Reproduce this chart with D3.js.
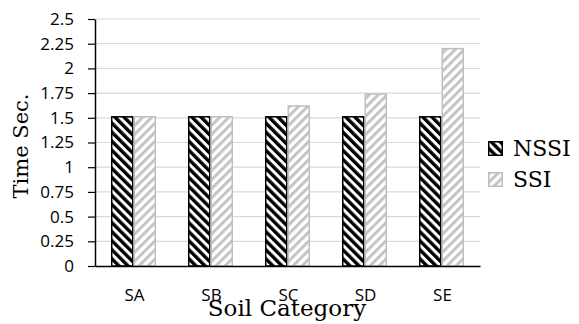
<!DOCTYPE html>
<html>
<head>
<meta charset="utf-8">
<script src="https://cdn.jsdelivr.net/npm/d3@7"></script>
<style>
html,body{margin:0;padding:0;background:#fff;}
svg{display:block;}
</style>
</head>
<body>
<svg id="chart" width="579" height="324"></svg>
<script>
const categories = ["SA", "SB", "SC", "SD", "SE"];
const seriesNames = ["NSSI", "SSI"];
const nssiValues = [1.51, 1.51, 1.51, 1.51, 1.51];
const ssiValues = [1.51, 1.51, 1.62, 1.74, 2.2];
const tickValues = [0, 0.25, 0.5, 0.75, 1, 1.25, 1.5, 1.75, 2, 2.25, 2.5];
const tickLabels = ["0", "0.25", "0.5", "0.75", "1", "1.25", "1.5", "1.75", "2", "2.25", "2.5"];
const yTitle = "Time Sec.";
const xTitle = "Soil Category";

const seriesValues = {NSSI: nssiValues, SSI: ssiValues};
const data = categories.map((c, i) => ({cat: c, vals: seriesNames.map(s => ({s, v: seriesValues[s][i]}))}));

const svg = d3.select("#chart");
const mLeft = 95, mRight = 480, mTop = 19, mBottom = 266;

// patterns
const defs = svg.append("defs");
const pN = defs.append("pattern").attr("id", "pat-NSSI").attr("patternUnits", "userSpaceOnUse")
  .attr("width", 6.4).attr("height", 6.4).attr("patternTransform", "rotate(-45)");
pN.append("rect").attr("width", 6.4).attr("height", 6.4).attr("fill", "#fff");
pN.append("rect").attr("x", 0).attr("width", 3.4).attr("height", 6.4).attr("fill", "#000");
const pS = defs.append("pattern").attr("id", "pat-SSI").attr("patternUnits", "userSpaceOnUse")
  .attr("width", 6.4).attr("height", 6.4).attr("patternTransform", "rotate(45)");
pS.append("rect").attr("width", 6.4).attr("height", 6.4).attr("fill", "#fff");
pS.append("rect").attr("x", 0).attr("width", 3).attr("height", 6.4).attr("fill", "#c4c4c4");

const strokeColor = {NSSI: "#000", SSI: "#bfbfbf"};

const x0 = d3.scaleBand().domain(categories).range([mLeft, mRight]).padding(0);
const x1 = d3.scaleBand().domain(seriesNames).range([0, x0.bandwidth()]).paddingInner(0).paddingOuter(0.71);
const y = d3.scaleLinear().domain([0, 2.5]).range([mBottom, mTop]);

// gridlines
svg.append("g").selectAll("line").data(tickValues.filter(v => v > 0)).join("line")
  .attr("x1", mLeft).attr("x2", mRight)
  .attr("y1", d => y(d)).attr("y2", d => y(d))
  .attr("stroke", "#d9d9d9").attr("stroke-width", 1.2);

// bars
const groups = svg.append("g").selectAll("g").data(data).join("g")
  .attr("transform", d => `translate(${x0(d.cat)},0)`);
groups.selectAll("rect").data(d => d.vals).join("rect")
  .attr("x", d => x1(d.s) + 0.75)
  .attr("width", x1.bandwidth() - 1.5)
  .attr("y", d => y(d.v))
  .attr("height", d => y(0) - y(d.v))
  .attr("fill", d => `url(#pat-${d.s})`)
  .attr("stroke", d => strokeColor[d.s])
  .attr("stroke-width", 1.5);

// y axis
const yAxis = d3.axisLeft(y).tickValues(tickValues)
  .tickFormat((d, i) => tickLabels[i]).tickSize(7).tickPadding(14).tickSizeOuter(0);
const gy = svg.append("g").attr("transform", `translate(${mLeft},0)`).call(yAxis);
gy.select(".domain").attr("stroke", "#000").attr("stroke-width", 1.5);
gy.selectAll(".tick line").attr("stroke", "#000").attr("stroke-width", 1.2);
gy.selectAll(".tick text").attr("font-family", "'Open Sans', sans-serif").attr("font-size", 17).attr("fill", "#000");

// x axis
const xAxis = d3.axisBottom(x0).tickSize(0).tickPadding(23).tickSizeOuter(0);
const gx = svg.append("g").attr("transform", `translate(0,${mBottom})`).call(xAxis);
gx.select(".domain").attr("stroke", "#000").attr("stroke-width", 1.5);
gx.selectAll(".tick text").attr("font-family", "'Open Sans', sans-serif").attr("font-size", 17).attr("fill", "#000")
  .attr("dy", "0.71em").attr("dx", 1);

// titles
svg.append("text").attr("transform", "translate(27.5,146) rotate(-90)")
  .attr("text-anchor", "middle").attr("font-family", "'DejaVu Serif', serif").attr("font-size", 21)
  .attr("fill", "#000").text(yTitle);
svg.append("text").attr("x", 287).attr("y", 316)
  .attr("text-anchor", "middle").attr("font-family", "'DejaVu Serif', serif").attr("font-size", 23)
  .attr("fill", "#000").text(xTitle);

// legend
const legend = svg.append("g").selectAll("g").data(seriesNames).join("g")
  .attr("transform", (d, i) => `translate(488,${141 + i * 31})`);
legend.append("rect").attr("x", 0.75).attr("y", 0.75).attr("width", 13.5).attr("height", 13.5)
  .attr("fill", d => `url(#pat-${d})`).attr("stroke", d => strokeColor[d]).attr("stroke-width", 1.5);
legend.append("text").attr("x", 25).attr("y", 15)
  .attr("font-family", "'DejaVu Serif', serif").attr("font-size", 22).attr("fill", "#000").text(d => d);
</script>
</body>
</html>
